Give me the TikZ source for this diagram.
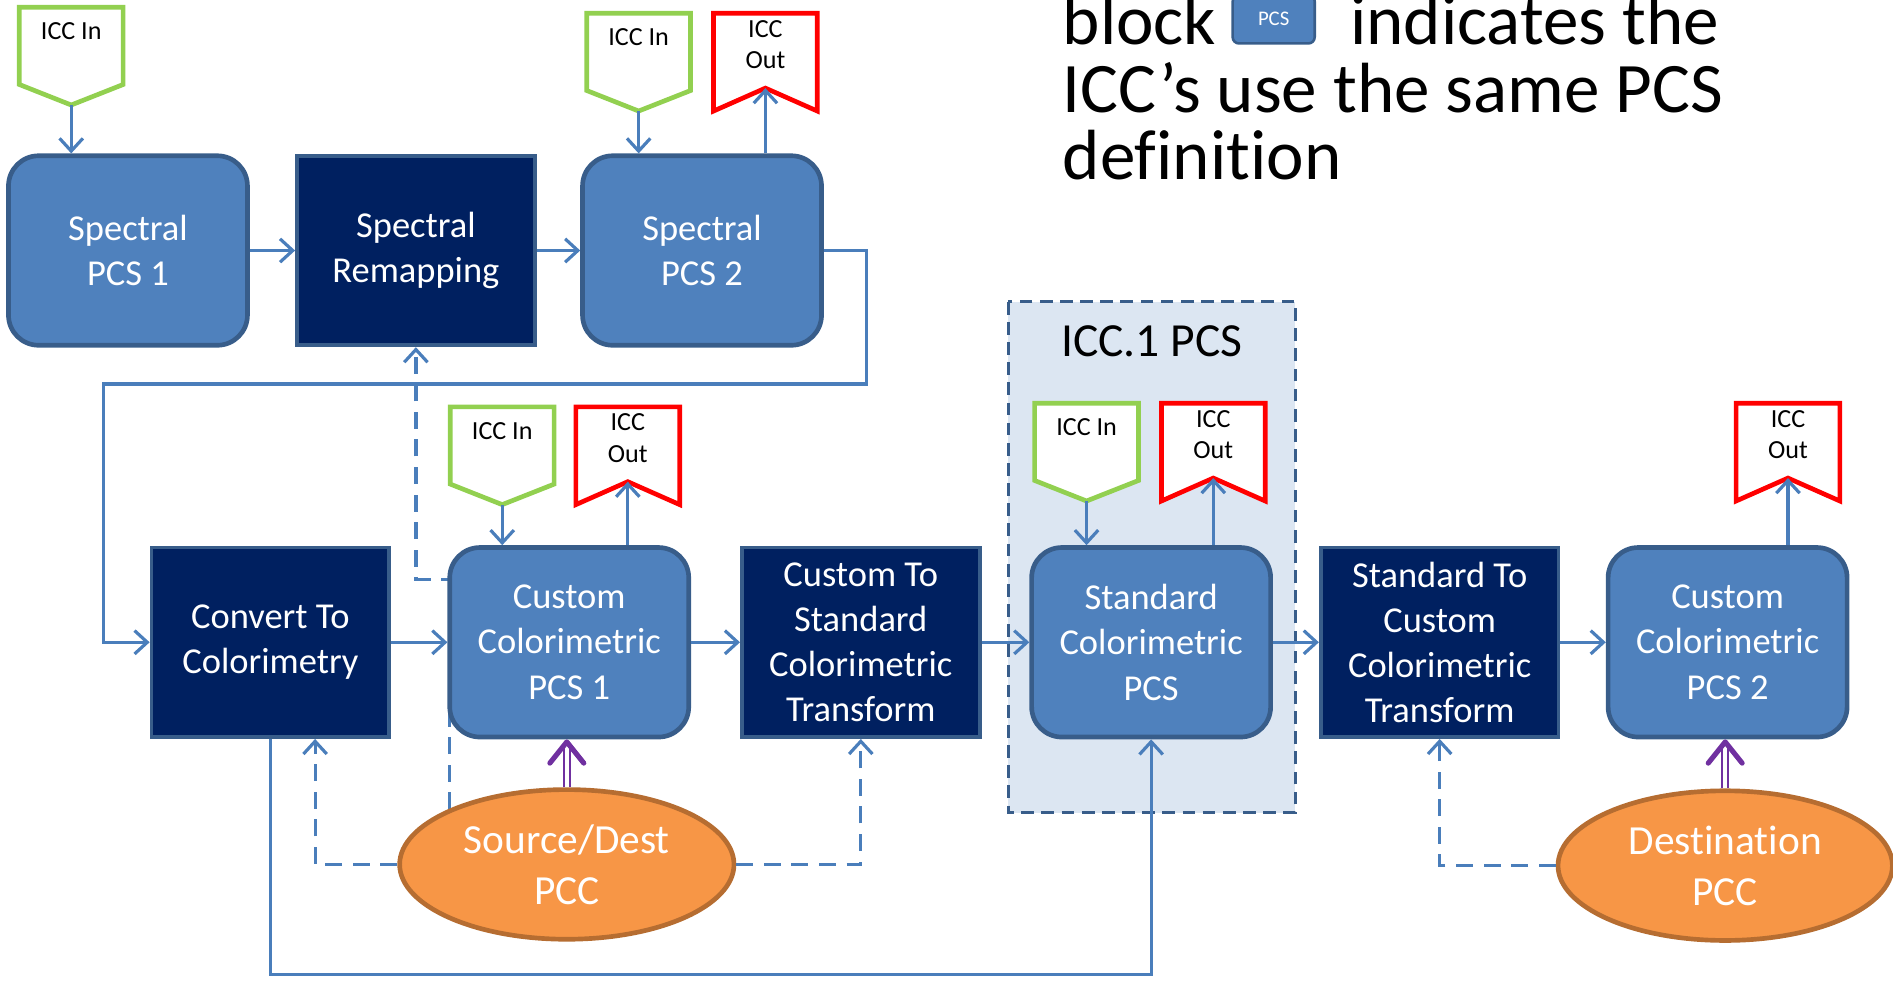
\documentclass[tikz,border=0pt]{standalone}
\usepackage{fontspec}
\setmainfont{Carlito}[Ligatures=CommonOff]
\usetikzlibrary{arrows.meta,shapes.geometric,backgrounds}

\definecolor{pcsblue}{HTML}{4F81BD}
\definecolor{pcsedge}{HTML}{385D8A}
\definecolor{navy}{HTML}{002060}
\definecolor{linkblue}{HTML}{4A7EBB}
\definecolor{ingreen}{HTML}{92D050}
\definecolor{outred}{HTML}{FF0000}
\definecolor{pccorange}{HTML}{F79646}
\definecolor{pccedge}{HTML}{B66D31}
\definecolor{pccpurple}{HTML}{7030A0}
\definecolor{iccfill}{HTML}{DCE6F2}

\newcommand{\boxfont}{\fontsize{17.2}{21.3}\selectfont}
\newcommand{\flagfont}{\fontsize{12.3}{14.8}\selectfont}

\begin{document}
\begin{tikzpicture}[x=0.02cm,y=-0.02cm,>={Straight Barb[length=6pt,width=11pt]}]
        \tikzstyle{pcs} = [rectangle, rounded corners=0.5cm, fill=pcsblue, draw=pcsedge, line width=2.2pt, minimum width=3.96cm, minimum height=3.14cm, text=white, align=center, font=\boxfont]
        \tikzstyle{xform} = [rectangle, fill=navy, draw=pcsedge, line width=1.8pt, minimum width=3.94cm, minimum height=3.14cm, text=white, align=center, font=\boxfont]
        \tikzstyle{pcc} = [ellipse, fill=pccorange, draw=pccedge, line width=2.2pt, minimum width=5.54cm, minimum height=2.48cm, text=white, align=center, font=\fontsize{19.5}{24}\selectfont]
        \tikzstyle{flagin} = [anchor=north, minimum width=1.72cm, inner sep=0pt, outer sep=0pt, text height=0.54cm, text depth=1.08cm, font=\flagfont]
        \tikzstyle{flagout} = [anchor=north, minimum width=1.72cm, inner sep=0pt, outer sep=0pt, text height=0.92cm, text depth=0.70cm, align=center, font=\flagfont]
        \tikzstyle{link} = [draw=linkblue, line width=1.5pt, ->]
        \tikzstyle{dlink} = [link, dash pattern=on 8pt off 5pt]
        \tikzstyle{pccarrow} = [draw=pccpurple, line width=0.9pt, double=white, double distance=1.9pt, -{Straight Barb[length=10pt,width=16pt,line width=2.4pt,round]}]
        \useasboundingbox (0,0) rectangle (1568,812);

        % top row
        \node[pcs] (spa) at (106,207.5) {Spectral\\PCS 1};
        \node[xform] (remap) at (344.5,207.5) {Spectral\\Remapping};
        \node[pcs] (spb) at (581.5,207.5) {Spectral\\PCS 2};
        \node[flagin] (ina) at (59,6) {ICC In};
        \node[flagin] (inb) at (529,11) {ICC In};
        \node[flagout] (outc) at (634,11) {ICC\\Out};

        % bottom row
        \node[xform] (cvt) at (224,532) {Convert To\\Colorimetry};
        \node[pcs] (cpa) at (471.5,532) {Custom\\Colorimetric\\PCS 1};
        \node[xform] (c2s) at (713,532) {Custom To\\Standard\\Colorimetric\\Transform};
        \node[pcs] (std) at (953.5,532) {Standard\\Colorimetric\\PCS};
        \node[xform] (s2c) at (1192.5,532) {Standard To\\Custom\\Colorimetric\\Transform};
        \node[pcs] (cpb) at (1431,532) {Custom\\Colorimetric\\PCS 2};
        \node[flagin] (ind) at (416,337) {ICC In};
        \node[flagout] (oute) at (520,337) {ICC\\Out};
        \node[flagin] (inf) at (900,334) {ICC In};
        \node[flagout] (outg) at (1005,334) {ICC\\Out};
        \node[flagout] (outh) at (1481,334) {ICC\\Out};
        \node[pcc] (srcpcc) at (469.5,716) {Source/Dest\\PCC};
        \node[pcc] (dstpcc) at (1429,717) {Destination\\PCC};
        \node[font=\fontsize{22.4}{27}\selectfont] (icctitle) at (954,283) {ICC.1 PCS};

        % note
        \node[anchor=base west, inner sep=0pt, align=left, font=\fontsize{33.5}{31.9}\selectfont] (note) at (880,149) {block\hspace{2.22cm}indicates the\\ICC’s use the same PCS\\definition};
        \node[rectangle, rounded corners=3pt, fill=pcsblue, draw=pcsedge, line width=1.2pt, minimum width=1.36cm, minimum height=0.8cm, text=white, font=\fontsize{9.8}{11}\selectfont] (pcsicon) at (1055,16) {PCS};

        \begin{pgfonlayer}{background}
            \draw[draw=pcsedge, line width=1.4pt, dash pattern=on 6pt off 3.5pt, fill=iccfill] (835,250) rectangle (1073,673);
            \foreach \f in {ina,inb,ind,inf}
                \draw[draw=ingreen, fill=white, line width=2.2pt] (\f.north west) -- (\f.north east) -- ++(0,64) -- (\f.south) -- ([yshift=0.34cm]\f.south west) -- cycle;
            \foreach \f in {outc,oute,outg,outh}
                \draw[draw=outred, fill=white, line width=2.2pt] (\f.north west) -- (\f.north east) -- (\f.south east) -- ([yshift=0.38cm]\f.south) -- (\f.south west) -- cycle;
            \coordinate (cpahook) at (372,480);
            \draw[dlink] (cpahook |- srcpcc.center) -- (cpahook) -| (remap.south);
        \end{pgfonlayer}

        \foreach \from/\to in {spa/remap, remap/spb, cvt/cpa, cpa/c2s, c2s/std, std/s2c, s2c/cpb}
            \draw[link] (\from) -- (\to);
        \foreach \f/\b in {ina/spa, inb/spb, ind/cpa, inf/std}
            \draw[link] (\f.south) -- (\f.south |- \b.north);
        \foreach \f/\b in {outc/spb, oute/cpa, outg/std, outh/cpb}
            \draw[link] (\f.south |- \b.north) -- ([yshift=0.38cm]\f.south);

        \coordinate (loopa) at (718,318);
        \coordinate (loopb) at (86,318);
        \draw[link] (spb.east) -| (loopa) -- (loopb) |- (cvt.west);
        \coordinate (lowbend) at (600,807);
        \draw[link] (cvt.south) |- (lowbend) -| (std.south);

        \draw[dlink] (srcpcc.west) -| ([xshift=0.74cm]cvt.south);
        \draw[dlink] (srcpcc.east) -| (c2s.south);
        \draw[dlink] (dstpcc.west) -| (s2c.south);
        \draw[pccarrow] (srcpcc.north) -- (srcpcc.north |- cpa.south);
        \draw[pccarrow] (dstpcc.north) -- (dstpcc.north |- cpb.south);
    \end{tikzpicture}
\end{document}
